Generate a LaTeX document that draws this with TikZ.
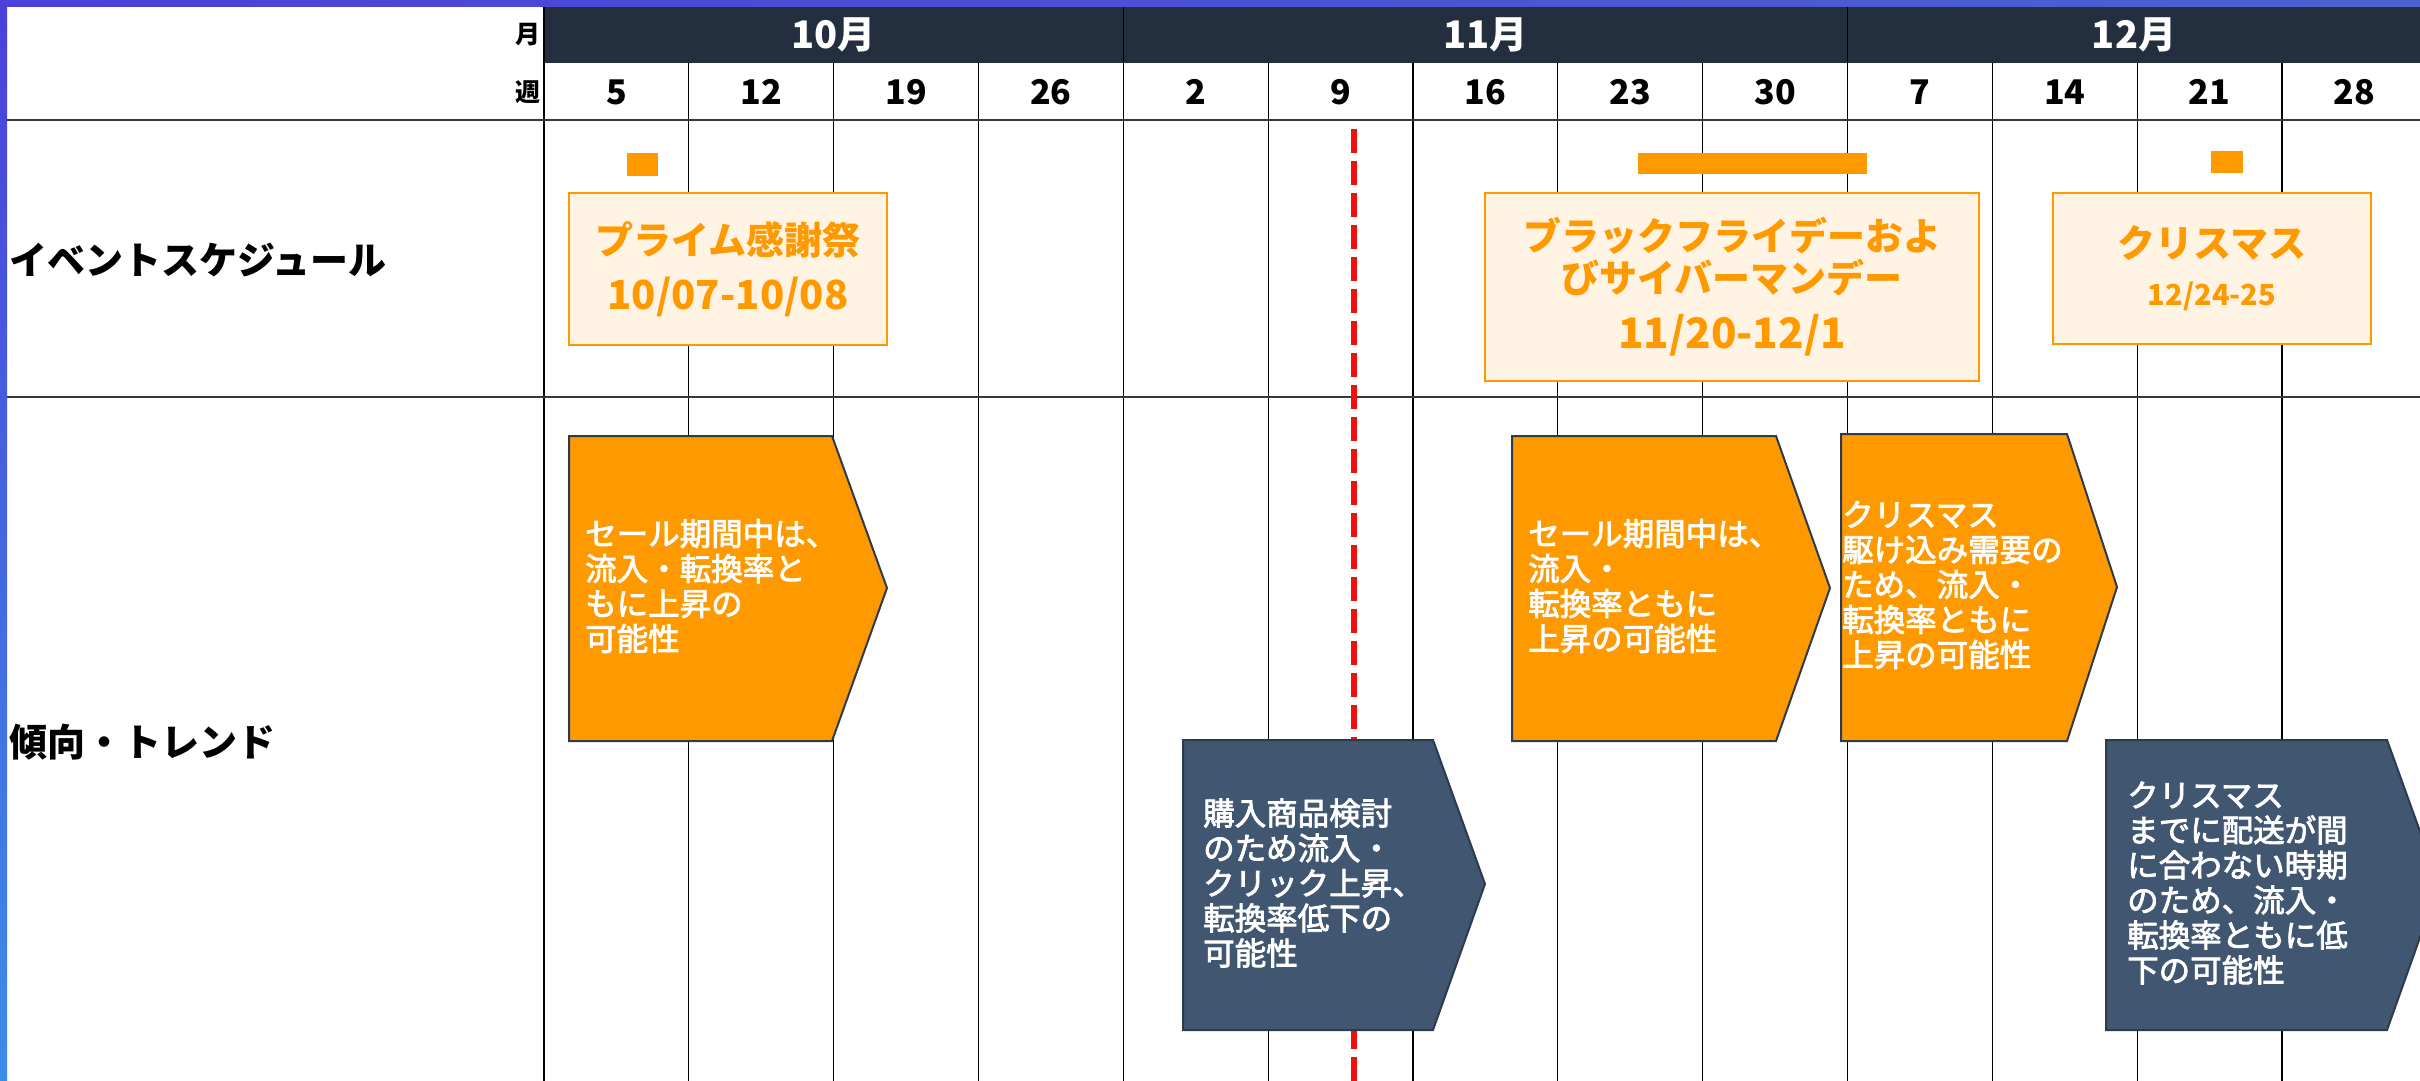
\documentclass[tikz,border=0pt]{standalone}
\usepackage{fontspec}
\setmainfont{Noto Sans CJK JP}
\newfontfamily\trendfont{Noto Sans CJK JP}[FakeBold=2.5]
\definecolor{aworange}{HTML}{FF9900}
\definecolor{squid}{HTML}{232F3E}
\definecolor{navyfill}{HTML}{405671}
\definecolor{boxfill}{HTML}{FFF3E4}
\definecolor{redline}{HTML}{F01010}
\definecolor{frameA}{HTML}{4B40D9}
\definecolor{frameB}{HTML}{4A62CF}
\definecolor{frameC}{HTML}{3D8CE8}
\definecolor{pentaedge}{HTML}{2E3B4C}
\tikzset{
  gridline/.style={black, line width=1.3},
  rowline/.style={draw=black!78, line width=2.5},
  monthlbl/.style={white, font=\bfseries\fontsize{38}{40}\selectfont, inner sep=0},
  weeklbl/.style={black, font=\bfseries\fontsize{34}{36}\selectfont, inner sep=0},
  sidelbl/.style={black, font=\bfseries\fontsize{25}{27}\selectfont, inner sep=0, anchor=east},
  rowlbl/.style={black, font=\bfseries\fontsize{38}{40}\selectfont, inner sep=0, anchor=west},
  evbar/.style={fill=aworange, inner sep=0, draw=none},
  evbox/.style={draw=aworange, line width=2.5, fill=boxfill, inner sep=0, align=center, text=aworange},
  penta/.style={draw=pentaedge, line width=2},
  trendtxt/.style={white, align=left, inner sep=0, anchor=west, font=\trendfont\fontsize{31.5}{35}\selectfont},
  todayline/.style={redline, line width=6, dash pattern=on 24 off 8}
}
\begin{document}
\begin{tikzpicture}[x=1pt,y=-1pt]
\useasboundingbox (0,0) rectangle (2420,1081);
\fill[white] (0,0) rectangle (2420,1081);
% gradient frame
\shade[left color=frameA, right color=frameB] (0,0) rectangle (2420,7);
\shade[top color=frameA, bottom color=frameC] (0,0) rectangle (7,1081);
% header band
\fill[squid] (544,7) rectangle (2420,63);
\draw[black, line width=1.5] (1123.3,7) -- (1123.3,63);
\draw[black, line width=1.5] (1847.5,7) -- (1847.5,63);
% vertical grid lines
\draw[gridline] (544,7) -- (544,1081);
\foreach \i in {1,...,12} {
  \draw[gridline] ({544+\i*144.83},63) -- ({544+\i*144.83},1081);
}
% row lines
\draw[rowline] (7,120) -- (2420,120);
\draw[rowline] (7,397) -- (2420,397);
% month labels
\node[monthlbl] (m10) at (833.5,35) {10月};
\node[monthlbl] (m11) at (1485.4,35) {11月};
\node[monthlbl] (m12) at (2134,35) {12月};
% side labels
\node[sidelbl] (lblm) at (541,35) {月};
\node[sidelbl] (lblw) at (541,92) {週};
% week labels
\foreach \w [count=\k from 0] in {5,12,19,26,2,9,16,23,30,7,14,21,28} {
  \node[weeklbl] (w\k) at ({544+(\k+0.5)*144.83},92) {\w};
}
% row labels
\node[rowlbl] (rowev) at (9,260) {イベントスケジュール};
\node[rowlbl] (rowtr) at (9,742) {傾向・トレンド};
% today line
\coordinate (rtop) at (1353.5,129);
\coordinate (rbot) at (1353.5,1081);
\draw[todayline] (rtop) -- (rbot);
% event bars
\node[evbar, minimum width=31, minimum height=23] (bar1) at (642.5,164.5) {};
\node[evbar, minimum width=229, minimum height=21] (bar2) at (1752.5,163) {};
\node[evbar, minimum width=32, minimum height=22] (bar3) at (2227,162) {};
% event boxes
\node[evbox, minimum width=318, minimum height=152, font=\bfseries\fontsize{38}{55}\selectfont] (box1) at (728,269)
  {プライム感謝祭\\{\fontsize{40}{55}\selectfont 10/07-10/08}};
\node[evbox, minimum width=494, minimum height=188, font=\bfseries\fontsize{38}{42}\selectfont] (box2) at (1732,287)
  {ブラックフライデーおよ\\びサイバーマンデー\\[14pt]{\fontsize{42}{42}\selectfont 11/20-12/1}};
\node[evbox, minimum width=318, minimum height=151, font=\bfseries\fontsize{38}{48}\selectfont] (box3) at (2212,268.5)
  {クリスマス\\{\fontsize{29}{48}\selectfont 12/24-25}};
% trend pentagons
\draw[penta, fill=aworange] (569,436) -- (832,436) -- (887,588) -- (832,741) -- (569,741) -- cycle;
\node[trendtxt] (t1) at (585,586) {セール期間中は、\\流入・転換率と\\もに上昇の\\可能性};
\draw[penta, fill=navyfill] (1183,740) -- (1433,740) -- (1485,884) -- (1433,1030) -- (1183,1030) -- cycle;
\node[trendtxt] (t2) at (1203,883) {購入商品検討\\のため流入・\\クリック上昇、\\転換率低下の\\可能性};
\draw[penta, fill=aworange] (1512,436) -- (1776,436) -- (1830,588) -- (1776,741) -- (1512,741) -- cycle;
\node[trendtxt] (t3) at (1528,586) {セール期間中は、\\流入・\\転換率ともに\\上昇の可能性};
\draw[penta, fill=aworange] (1841,434) -- (2067,434) -- (2117,587) -- (2067,741) -- (1841,741) -- cycle;
\node[trendtxt] (t4) at (1842,585) {クリスマス\\駆け込み需要の\\ため、流入・\\転換率ともに\\上昇の可能性};
\begin{scope}
\clip (0,0) rectangle (2420,1081);
\draw[penta, fill=navyfill] (2106,740) -- (2387,740) -- (2439,884) -- (2387,1030) -- (2106,1030) -- cycle;
\end{scope}
\node[trendtxt] (t5) at (2127,883) {クリスマス\\までに配送が間\\に合わない時期\\のため、流入・\\転換率ともに低\\下の可能性};
\end{tikzpicture}
\end{document}
